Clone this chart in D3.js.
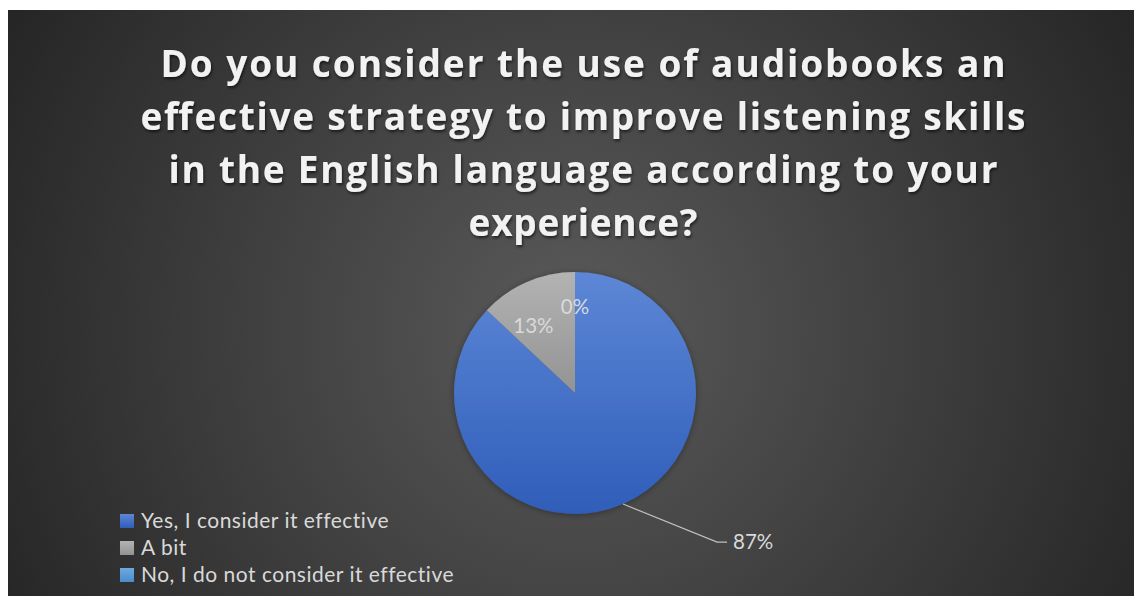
<!DOCTYPE html>
<html>
<head>
<meta charset="utf-8">
<script src="https://cdn.jsdelivr.net/npm/d3@7"></script>
<style>
  html, body { margin: 0; padding: 0; background: #ffffff; }
  svg { display: block; }
</style>
</head>
<body>
<svg id="chart" width="1134" height="596"></svg>
<script>
// Survey answers and their shares (percent)
const categories = ["Yes, I consider it effective", "A bit", "No, I do not consider it effective"];
const shares = [87, 13, 0];
const titleLines = [
  "Do you consider the use of audiobooks an",
  "effective strategy to improve listening skills",
  "in the English language according to your",
  "experience?"
];

const svg = d3.select("#chart");
const W = 1134, H = 596;
const defs = svg.append("defs");

// Chart area background: dark radial gradient, lighter toward the middle
const bg = defs.append("radialGradient").attr("id", "bgGrad")
  .attr("gradientUnits", "userSpaceOnUse")
  .attr("cx", 575).attr("cy", 330).attr("r", 640);
bg.append("stop").attr("offset", "0%").attr("stop-color", "#5a5a5a");
bg.append("stop").attr("offset", "100%").attr("stop-color", "#262626");

svg.append("rect")
  .attr("x", 8).attr("y", 10).attr("width", W - 8).attr("height", H - 10)
  .attr("fill", "url(#bgGrad)");

// Slice fills: vertical gradients per category
const sliceColors = [
  ["#5d87d6", "#2f5db9"],
  ["#b3b3b3", "#939393"],
  ["#6ea9de", "#4a8ccc"]
];
sliceColors.forEach((c, i) => {
  const g = defs.append("linearGradient").attr("id", "slice" + i)
    .attr("x1", 0).attr("y1", 0).attr("x2", 0).attr("y2", 1);
  g.append("stop").attr("offset", "0%").attr("stop-color", c[0]);
  g.append("stop").attr("offset", "100%").attr("stop-color", c[1]);
});

// Soft shadows
const sh = defs.append("filter").attr("id", "titleShadow")
  .attr("x", "-10%").attr("y", "-30%").attr("width", "120%").attr("height", "160%");
sh.append("feDropShadow").attr("dx", 1).attr("dy", 2).attr("stdDeviation", 1.5)
  .attr("flood-color", "#000").attr("flood-opacity", 0.6);
const psh = defs.append("filter").attr("id", "pieShadow")
  .attr("x", "-20%").attr("y", "-20%").attr("width", "140%").attr("height", "140%");
psh.append("feDropShadow").attr("dx", 0).attr("dy", 1).attr("stdDeviation", 3)
  .attr("flood-color", "#000").attr("flood-opacity", 0.35);

// Title
const titleX = 583;
const titleTop = 77, titleStep = 53;
const titleWidths = [845, 885, 829, 229];
const title = svg.append("g").attr("filter", "url(#titleShadow)");
titleLines.forEach((line, i) => {
  title.append("text")
    .attr("x", titleX).attr("y", titleTop + i * titleStep)
    .attr("text-anchor", "middle")
    .attr("font-family", "'Open Sans', sans-serif")
    .attr("font-weight", 700)
    .attr("font-size", 37)
    .attr("fill", "#f2f2f2")
    .attr("textLength", titleWidths[i])
    .attr("lengthAdjust", "spacing")
    .text(line);
});

// Pie
const cx = 575, cy = 393, R = 121;
const pie = d3.pie().sort(null).value(d => d.v);
const arcs = pie(shares.map((v, i) => ({ v, i })));
const arc = d3.arc().innerRadius(0).outerRadius(R);

const pieG = svg.append("g").attr("transform", `translate(${cx},${cy})`);
pieG.append("g").attr("filter", "url(#pieShadow)")
  .selectAll("path").data(arcs).join("path")
  .attr("d", arc)
  .attr("fill", d => `url(#slice${d.data.i})`)
  .attr("stroke", "none");

// Data labels
const labelFont = "'Lato', 'Open Sans', sans-serif";
const labelColor = "#d9d9d9";
const labelSize = 20.5;
const inner = d3.arc().innerRadius(R * 0.7).outerRadius(R * 0.7);
const fmt = v => Math.round(v) + "%";

arcs.forEach(d => {
  const mid = (d.startAngle + d.endAngle) / 2;
  if (d.data.v >= 50) {
    // large slice: label outside with a leader line
    const ex = Math.sin(mid) * R, ey = -Math.cos(mid) * R;
    const elbow = [ex + 94, ey + 38];
    const end = [elbow[0] + 10, elbow[1]];
    pieG.append("polyline")
      .attr("points", [[ex, ey], elbow, end].map(p => p.join(",")).join(" "))
      .attr("fill", "none").attr("stroke", "#bfbfbf").attr("stroke-width", 1.2);
    pieG.append("text")
      .attr("x", end[0] + 6).attr("y", end[1])
      .attr("dy", "0.35em")
      .attr("font-family", labelFont).attr("font-size", labelSize)
      .attr("fill", labelColor)
      .text(fmt(d.data.v));
  } else {
    const [lx, ly] = inner.centroid(d);
    const shift = d.data.v === 0 ? [0, -1] : [-8, 11];
    pieG.append("text")
      .attr("x", lx + shift[0]).attr("y", ly + shift[1])
      .attr("dy", "0.35em")
      .attr("text-anchor", "middle")
      .attr("font-family", labelFont).attr("font-size", labelSize)
      .attr("fill", labelColor)
      .text(fmt(d.data.v));
  }
});

// Legend
const legend = svg.append("g").attr("transform", "translate(120,514)");
const rowH = 27;
categories.forEach((name, i) => {
  const row = legend.append("g").attr("transform", `translate(0,${i * rowH})`);
  row.append("rect").attr("x", 0).attr("y", 0).attr("width", 14).attr("height", 14)
    .attr("fill", `url(#slice${i})`);
  row.append("text")
    .attr("x", 21).attr("y", 14)
    .attr("font-family", labelFont).attr("font-size", 21)
    .attr("letter-spacing", 0.5)
    .attr("fill", labelColor)
    .text(name);
});
</script>
</body>
</html>
